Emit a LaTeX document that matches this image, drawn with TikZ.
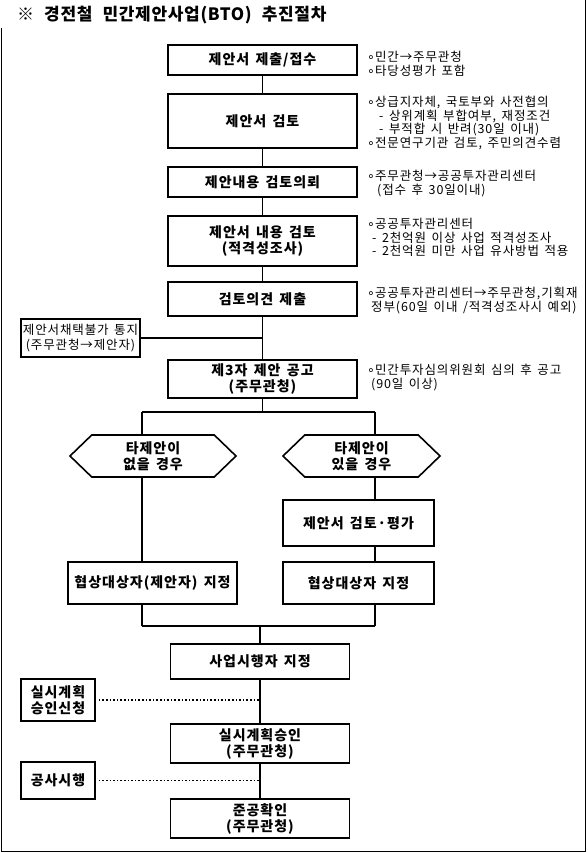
\documentclass[tikz,border=0pt]{standalone}
\usepackage{fontspec}
\setmainfont{Noto Sans CJK KR}[WordSpace=2.2]
\newfontfamily\boxfont{Noto Sans CJK KR}[LetterSpace=7, WordSpace=1.5]
\newfontfamily\notefont{Noto Sans CJK KR}[LetterSpace=7, WordSpace=1.5]
\newfontfamily\titlefont{Noto Sans CJK KR}[LetterSpace=4, WordSpace=2.2]
\newfontfamily\dejavu{DejaVu Sans}
\usetikzlibrary{shapes.symbols}
\newcommand{\rg}{{\dejavu ∘}}
\tikzset{
  x=1pt, y=-1pt,
  frame/.style={line width=1pt},
  box/.style={draw, line width=1.6pt, align=center, inner sep=1pt,
    font=\boxfont\fontsize{14}{16}\selectfont\bfseries},
  smallbox/.style={draw, line width=1.6pt, align=center, inner sep=1pt,
    font=\notefont\fontsize{12.5}{15}\selectfont},
  hexa/.style={draw, line width=1.6pt, align=center, inner sep=1pt,
    shape=signal, signal to=west and east, signal pointer angle=88,
    font=\boxfont\fontsize{14}{16}\selectfont\bfseries},
  conn/.style={line width=1.6pt},
  dots/.style={line width=1.6pt, dotted},
  note/.style={anchor=north west, align=left, inner sep=0pt,
    font=\notefont\fontsize{12.5}{13.5}\selectfont},
}
\begin{document}
\begin{tikzpicture}
\useasboundingbox (0,0) rectangle (587,853);
% frame
\draw[frame] (1,28) -- (1,851) -- (585,851) -- (585,0);
\node[anchor=west, inner sep=0pt, font=\titlefont\fontsize{17}{20}\selectfont\bfseries] (title) at (17,15) {※ 경전철 민간제안사업(BTO) 추진절차};

% main column
\node[box, minimum width=189, minimum height=30] (b1) at (262.5,60) {제안서 제출/접수};
\node[box, minimum width=189, minimum height=54] (b2) at (262.5,121) {제안서 검토};
\node[box, minimum width=189, minimum height=30] (b3) at (262.5,182) {제안내용 검토의뢰};
\node[box, minimum width=189, minimum height=50] (b4) at (262.5,241) {제안서 내용 검토\\(적격성조사)};
\node[box, minimum width=189, minimum height=34] (b5) at (262.5,299) {검토의견 제출};
\node[box, minimum width=189, minimum height=38] (b6) at (262.5,379) {제3자 제안 공고\\(주무관청)};
\node[smallbox, minimum width=119, minimum height=38] (nb) at (80.5,338) {제안서채택불가 통지\\(주무관청→제안자)};

\draw[conn] (b1) -- (b2);
\draw[conn] (b2) -- (b3);
\draw[conn] (b3) -- (b4);
\draw[conn] (b4) -- (b5);
\draw[conn] (b5) -- (b6);
\draw[conn] (nb.east) -- (nb.east -| b6.north);

% branches
\coordinate (j1) at (262.5,412);
\coordinate (jl) at (142,412);
\coordinate (jr) at (375,412);
\node[hexa, minimum width=166, minimum height=42] (h1) at (153,456) {타제안이\\없을 경우};
\node[hexa, minimum width=157, minimum height=42] (h2) at (361.5,456) {타제안이\\있을 경우};
\node[box, minimum width=151, minimum height=46] (r1) at (358.5,523) {제안서 검토·평가};
\node[box, minimum width=151, minimum height=42] (r2) at (358.5,583) {협상대상자 지정};
\node[box, minimum width=169, minimum height=42] (l1) at (152.5,583) {협상대상자(제안자) 지정};
\coordinate (kl) at (142,626);
\coordinate (kr) at (375,626);
\coordinate (k1) at (260,626);

\draw[conn] (b6) -- (j1);
\draw[conn] (jl) -- (jr);
\draw[conn] (jl) -- (jl |- h1.north);
\draw[conn] (jr) -- (jr |- h2.north);
\draw[conn] (jl |- h1.south) -- (jl |- l1.north);
\draw[conn] (jr |- h2.south) -- (jr |- r1.north);
\draw[conn] (jr |- r1.south) -- (jr |- r2.north);
\draw[conn] (jl |- l1.south) -- (kl);
\draw[conn] (jr |- r2.south) -- (kr);
\draw[conn] (kl) -- (kr);

% lower column
\node[box, minimum width=179, minimum height=35] (b7) at (260,661.5) {사업시행자 지정};
\node[box, minimum width=179, minimum height=39] (b8) at (260,743.5) {실시계획승인\\(주무관청)};
\node[box, minimum width=179, minimum height=39] (b9) at (260,818.5) {준공확인\\(주무관청)};
\node[box, minimum width=74, minimum height=42] (s1) at (58,700) {실시계획\\승인신청};
\node[box, minimum width=74, minimum height=37] (s2) at (58,780.5) {공사시행};

\draw[conn] (k1) -- (b7);
\draw[conn] (b7) -- (b8);
\draw[conn] (b8) -- (b9);
\draw[dots] ([xshift=3pt]s1.east) -- (s1.east -| b7.south);
\draw[dots] ([xshift=3pt]s2.east) -- (s2.east -| b8.south);

% notes
\node[note] (n1) at (367,51) {\rg 민간→주무관청\\\rg 타당성평가 포함};
\node[note] (n2) at (367,96) {\rg 상급지자체, 국토부와 사전협의\\\hspace{12pt}- 상위계획 부합여부, 재정조건\\\hspace{12pt}- 부적합 시 반려(30일 이내)\\\rg 전문연구기관 검토, 주민의견수렴};
\node[note] (n3) at (367,170) {\rg 주무관청→공공투자관리센터\\\hspace{10pt}(접수 후 30일이내)};
\node[note] (n4) at (367,218) {\rg 공공투자관리센터\\\hspace{5pt}- 2천억원 이상 사업 적격성조사\\\hspace{5pt}- 2천억원 미만 사업 유사방법 적용};
\node[note] (n5) at (367,287) {\rg 공공투자관리센터→주무관청,기획재\\\hspace{4pt}정부(60일 이내 /적격성조사시 예외)};
\node[note] (n6) at (367,364) {\rg 민간투자심의위원회 심의 후 공고\\\hspace{4pt}(90일 이상)};
\end{tikzpicture}
\end{document}
